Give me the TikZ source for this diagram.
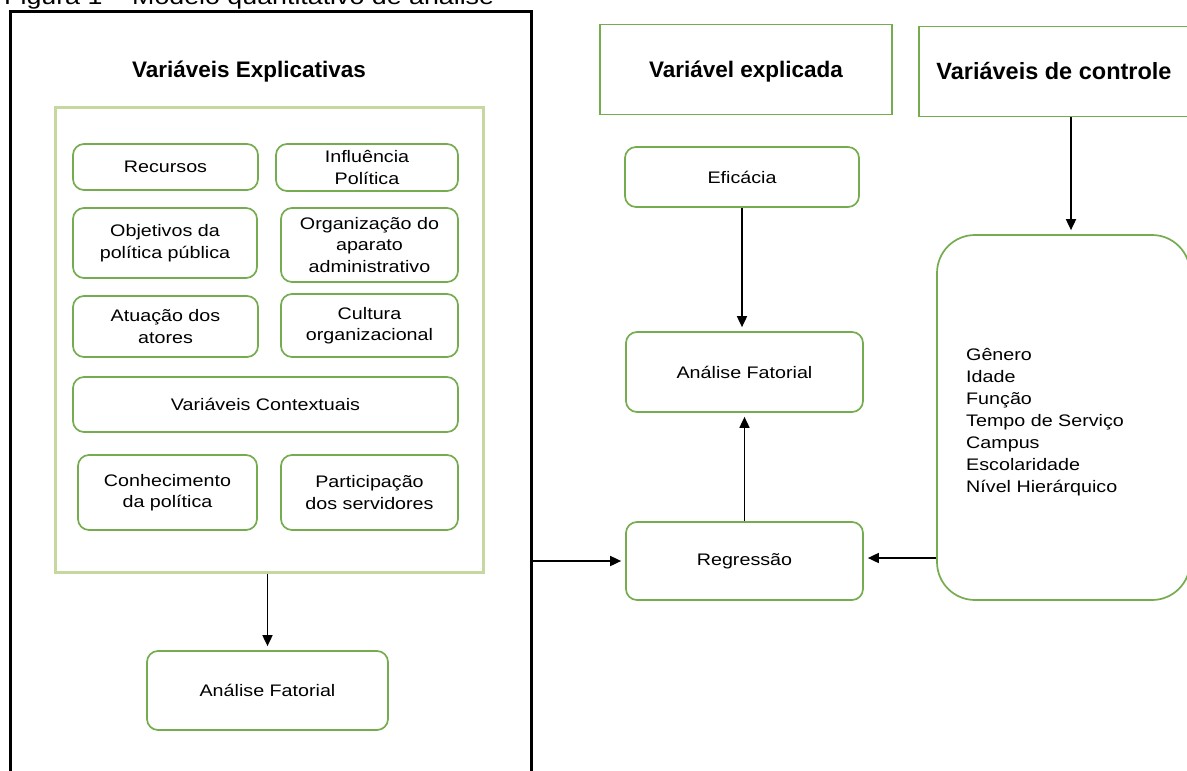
\documentclass[tikz,border=0pt]{standalone}
\usepackage{fontspec}
\setmainfont{Liberation Sans}[FakeStretch=1.18]
\newfontfamily\headfont{Liberation Sans}
\usetikzlibrary{arrows.meta}
\definecolor{boxgreen}{RGB}{118,172,80}
\definecolor{framegreen}{RGB}{198,216,160}
\tikzset{
  rbox/.style={draw=boxgreen, line width=1.7pt, rounded corners=11pt, align=center,
    font=\fontsize{16.7}{21.5}\selectfont, inner sep=0pt},
  hbox/.style={draw=boxgreen, line width=1.8pt, inner sep=0pt},
  head/.style={font=\headfont\bfseries\fontsize{22.5}{26}\selectfont, inner sep=0pt},
  arr/.style={-{Triangle[length=11pt,width=10pt]}, line width=1.7pt, shorten >=4pt},
}
\begin{document}
\begin{tikzpicture}[x=1pt,y=-1pt]
\useasboundingbox (0,0) rectangle (1187,771);
\clip (0,0) rectangle (1187,771);
\fill[white] (0,0) rectangle (1187,771);

% caption (cut off at the top, as in the reference)
\node[anchor=base west, inner sep=0pt, font=\fontsize{22.7}{27}\selectfont] (cap) at (4,5) {Figura 1 – Modelo quantitativo de análise};

% outer black frame
\node[draw=black, line width=3pt, minimum width=521.5pt, minimum height=788.5pt, inner sep=0pt] (outer) at (270.75,405.75) {};
\node[head, anchor=base] (hexp) at (249,77) {Variáveis Explicativas};

% light green frame
\node[draw=framegreen, line width=3pt, minimum width=428pt, minimum height=465pt, inner sep=0pt] (frame) at (269,339.5) {};

% explanatory variable boxes
\node[rbox, minimum width=185pt, minimum height=46pt] (rec) at (165.5,167) {Recursos};
\node[rbox, minimum width=182pt, minimum height=47pt] (inf) at (367,167.5) {Influência\\Política};
\node[rbox, minimum width=184pt, minimum height=70pt] (obj) at (165,243) {Objetivos da\\política pública};
\node[rbox, minimum width=177pt, minimum height=74pt] (org) at (369.5,245) {Organização do\\aparato\\administrativo};
\node[rbox, minimum width=185pt, minimum height=61pt] (atu) at (165.5,326.5) {Atuação dos\\atores};
\node[rbox, minimum width=177pt, minimum height=63pt] (cul) at (369.5,325.5) {Cultura\\organizacional};
\node[rbox, minimum width=385pt, minimum height=55pt] (ctx) at (265.5,404.5) {Variáveis Contextuais};
\node[rbox, minimum width=179pt, minimum height=75pt] (con) at (167.5,492.5) {Conhecimento\\da política};
\node[rbox, minimum width=177pt, minimum height=75pt] (par) at (369.5,492.5) {Participação\\dos servidores};
\node[rbox, minimum width=241pt, minimum height=79pt] (afl) at (267.5,690.5) {Análise Fatorial};

% explained variable
\node[hbox, minimum width=292pt, minimum height=90pt, font=\headfont\bfseries\fontsize{22.5}{26}\selectfont, text height=16.1pt, text depth=0pt] (ve) at (746,69.5) {Variável explicada};
\node[rbox, minimum width=234pt, minimum height=60pt] (efi) at (742,177) {Eficácia};
\node[rbox, minimum width=237pt, minimum height=80pt] (afr) at (744.5,372) {Análise Fatorial};
\node[rbox, minimum width=237pt, minimum height=78pt] (reg) at (744.5,561) {Regressão};

% control variables
\node[hbox, minimum width=270pt, minimum height=90pt, font=\headfont\bfseries\fontsize{23.5}{27}\selectfont, text height=16.8pt, text depth=0pt] (vc) at (1054,71.5) {Variáveis de controle};
\node[draw=boxgreen, line width=1.7pt, rounded corners=38pt, minimum width=253pt, minimum height=365pt, inner sep=0pt] (ctl) at (1063.5,417.5) {};
\node[anchor=west, align=left, inner sep=0pt, font=\fontsize{16.7}{22}\selectfont] (ctltext) at (966,422)
  {Gênero\\Idade\\Função\\Tempo de Serviço\\Campus\\Escolaridade\\Nível Hierárquico};

% connectors
\coordinate (ax) at (1071,0);
\coordinate (ay) at (0,558);
\draw[arr] (afl.north |- frame.south) -- (afl.north);
\draw[arr] (efi.south) -- (efi.south |- afr.north);
\draw[arr] (reg.north) -- (afr.south);
\draw[arr] (outer.east |- reg.west) -- (reg.west);
\draw[arr] (vc.south -| ax) -- (ctl.north -| ax);
\draw[arr] (ctl.west |- ay) -- (reg.east |- ay);
\end{tikzpicture}
\end{document}
